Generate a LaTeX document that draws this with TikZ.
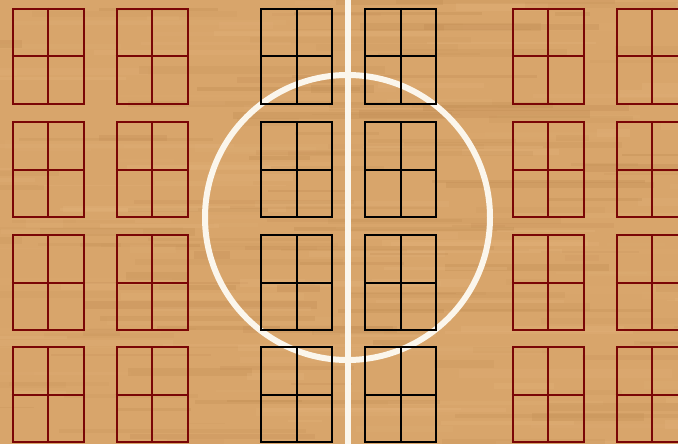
\documentclass[tikz,border=0pt]{standalone}
\definecolor{woodbase}{HTML}{D8A56B}
\definecolor{wooddark}{HTML}{BF8B52}
\definecolor{woodlight}{HTML}{E4B47D}
\definecolor{courtwhite}{HTML}{FBF6EC}
\definecolor{seatred}{HTML}{7A0606}
\tikzset{
  seatbox/.style={draw, line width=2pt, minimum width=71pt, minimum height=95pt, inner sep=0pt},
  redbox/.style={seatbox, draw=seatred},
  blackbox/.style={seatbox, draw=black},
  redcross/.style={seatred, line width=2pt},
  blackcross/.style={black, line width=2pt},
  courtline/.style={draw=courtwhite, line width=6pt}
}
\begin{document}
\begin{tikzpicture}[x=1pt,y=-1pt]
\useasboundingbox (0,0) rectangle (678,444);
\fill[woodbase] (0,0) rectangle (678,444);
\pgfmathsetseed{11}
\foreach \i in {1,...,260}{
  \pgfmathsetmacro\ya{rnd*450-4}
  \pgfmathsetmacro\xa{rnd*720-40}
  \pgfmathsetmacro\len{30+rnd*220}
  \pgfmathsetmacro\hh{1.5+rnd*7}
  \pgfmathsetmacro\op{0.08+rnd*0.25}
  \pgfmathtruncatemacro\pick{rnd*2}
  \ifnum\pick=0
    \fill[wooddark, opacity=\op] (\xa,\ya) rectangle ++(\len,\hh);
  \else
    \fill[woodlight, opacity=\op] (\xa,\ya) rectangle ++(\len,\hh);
  \fi
}
% court markings
\node[circle, courtline, minimum size=285pt, inner sep=0pt] (circ) at (347.5,217.5) {};
\coordinate (ltop) at (347.5,0);
\coordinate (lbot) at (347.5,444);
\draw[courtwhite, line width=6pt] (ltop) -- (lbot);
% seat boxes
\foreach \r/\yy in {1/56.5, 2/169.5, 3/282.5, 4/394.5}{
  \node[redbox] (a\r) at (48,\yy) {};
  \node[redbox] (b\r) at (152,\yy) {};
  \node[blackbox] (c\r) at (296.5,\yy) {};
  \node[blackbox] (d\r) at (400.5,\yy) {};
  \node[redbox] (e\r) at (548,\yy) {};
  \node[redbox] (f\r) at (652,\yy) {};
  \foreach \n in {a,b,e,f}{
    \draw[redcross] (\n\r.north) -- (\n\r.south) (\n\r.west) -- (\n\r.east);
  }
  \foreach \n in {c,d}{
    \draw[blackcross] (\n\r.north) -- (\n\r.south) (\n\r.west) -- (\n\r.east);
  }
}
\end{tikzpicture}
\end{document}
